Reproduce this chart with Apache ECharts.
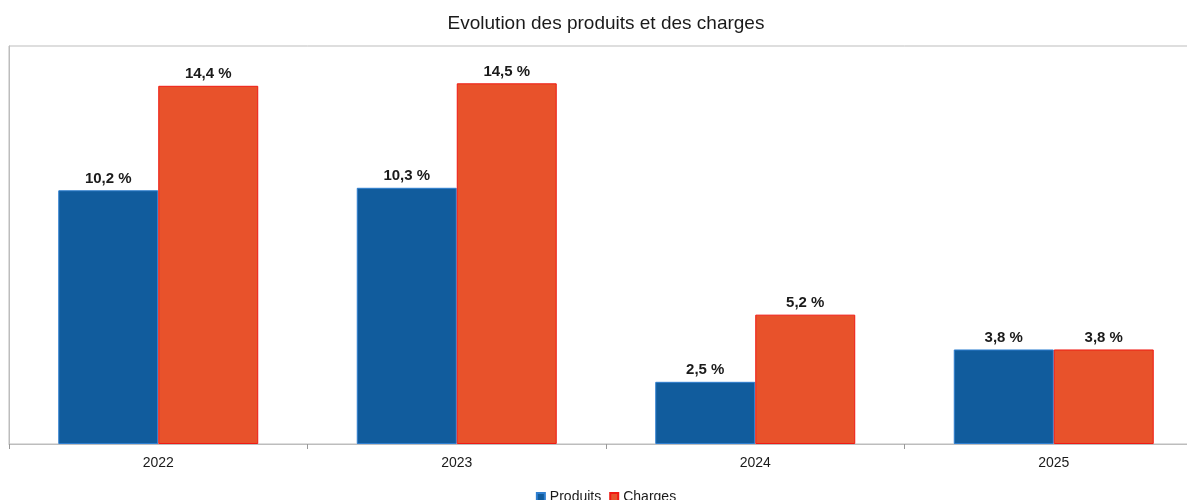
<!DOCTYPE html>
<html>
<head>
<meta charset="utf-8">
<script src="https://cdn.jsdelivr.net/npm/echarts@6/dist/echarts.min.js"></script>
<style>html,body{margin:0;padding:0;background:#fff;overflow:hidden;width:1187px;height:500px}#c{width:1212px;height:500px}</style>
</head>
<body>
<div id="c"></div>
<script>
var categories = ['2022', '2023', '2024', '2025'];
var produits = [10.2, 10.3, 2.5, 3.8];
var charges = [14.4, 14.5, 5.2, 3.8];
var seriesNames = ['Produits', 'Charges'];
var titleText = 'Evolution des produits et des charges';

var chart = echarts.init(document.getElementById('c'));
var fmt = function (p) { return p.value.toFixed(1).replace('.', ',') + ' %'; };
var FF = 'Liberation Sans, Arial, sans-serif';
var labelStyle = { show: true, position: 'top', formatter: fmt, fontFamily: FF, fontWeight: 'bold', fontSize: 15, color: '#1a1a1a', distance: 4 };
chart.setOption({
  animation: false,
  title: { text: titleText, left: 'center', top: 9, textStyle: { fontFamily: FF, fontSize: 19, fontWeight: 'normal', color: '#1a1a1a' } },
  legend: { data: seriesNames, left: 'center', top: 485, icon: 'rect', itemWidth: 8, itemHeight: 8, itemGap: 8, textStyle: { fontFamily: FF, fontSize: 14, color: '#1a1a1a' } },
  grid: { left: 9, top: 46, right: 9, bottom: 56, show: true, borderColor: '#bdbdbd', borderWidth: 1, containLabel: false },
  xAxis: {
    type: 'category', data: categories,
    axisLine: { lineStyle: { color: '#bdbdbd' } },
    axisTick: { show: true, alignWithLabel: false, length: 5, lineStyle: { color: '#999' } },
    axisLabel: { fontFamily: FF, fontSize: 14, color: '#1a1a1a', margin: 12 }
  },
  yAxis: { type: 'value', min: 0, max: 16, axisLabel: { show: false }, splitLine: { show: false }, axisLine: { show: true, lineStyle: { color: '#bdbdbd' } }, axisTick: { show: false } },
  series: [
    { name: seriesNames[0], type: 'bar', data: produits, barGap: '0%', barCategoryGap: '33%', itemStyle: { color: '#115c9d', borderColor: '#2f7fd0', borderWidth: 1 }, label: labelStyle },
    { name: seriesNames[1], type: 'bar', data: charges, itemStyle: { color: '#e8522b', borderColor: '#f01a12', borderWidth: 1 }, label: labelStyle }
  ]
});
</script>
</body>
</html>
